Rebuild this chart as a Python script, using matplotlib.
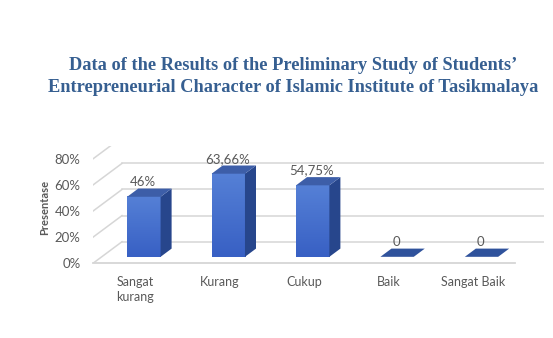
import matplotlib.pyplot as plt
import numpy as np
from matplotlib.patches import Polygon

categories = ['Sangat\nkurang', 'Kurang', 'Cukup', 'Baik', 'Sangat Baik']
values = [46, 63.66, 54.75, 0, 0]
yticks = [0, 20, 40, 60, 80]
title = ('Data of the Results of the Preliminary Study of Students\u2019\n'
         'Entrepreneurial Character of Islamic Institute of Tasikmalaya')

# pseudo-3d geometry, in data units (category / percent)
DX, DY = 0.344, 16.55       # full floor depth
F0, F1 = 0.30, 0.68         # bar front/back as fraction of depth
W = 0.395                   # bar width
grid_c = '#D6D6D6'
text_c = '#595959'

plt.rcParams['font.family'] = ['Lato', 'DejaVu Sans']

fig = plt.figure(figsize=(5.53, 3.38), dpi=100)
ax = fig.add_axes([93 / 553, (338 - 263.3) / 338, 451 / 553, 117.5 / 338])
ax.set_xlim(-0.5, 4.5 + DX)
ax.set_ylim(0, 90)

# walls: oblique side lines and back gridlines
for t in yticks:
    ax.plot([-0.5, -0.5 + DX], [t, t + DY], color=grid_c, lw=1.1, zorder=1)
    ax.plot([-0.5 + DX, 4.5 + DX], [t + DY, t + DY], color=grid_c, lw=1.1, zorder=1)
ax.plot([-0.5, 4.5], [0, 0], color=grid_c, lw=1.3, zorder=1, clip_on=False)

fx, fy = F0 * DX, F0 * DY
bx, by = (F1 - F0) * DX, (F1 - F0) * DY
grad = np.linspace(0, 1, 64).reshape(-1, 1)
cmap_front = plt.matplotlib.colors.LinearSegmentedColormap.from_list(
    'front', ['#3860C4', '#5580D6'])

for i, v in enumerate(values):
    x0 = i - W / 2 + fx
    x1 = x0 + W
    y0, y1 = fy, fy + v
    if v > 0:
        ax.imshow(grad, extent=(x0, x1, y0, y1), origin='lower', cmap=cmap_front,
                  aspect='auto', zorder=3, interpolation='bilinear')
        ax.add_patch(Polygon([(x1, y0), (x1 + bx, y0 + by), (x1 + bx, y1 + by), (x1, y1)],
                             closed=True, fc='#27468C', ec='none', zorder=3))
        ax.add_patch(Polygon([(x0, y1), (x1, y1), (x1 + bx, y1 + by), (x0 + bx, y1 + by)],
                             closed=True, fc='#3D5EA8', ec='none', zorder=3))
        label = f'{v:g}'.replace('.', ',') + '%'
    else:
        ax.add_patch(Polygon([(x0, y0), (x1, y0), (x1 + bx, y0 + by), (x0 + bx, y0 + by)],
                             closed=True, fc='#2F529C', ec='none', zorder=3))
        label = '0'
    ax.text(i + fx - 0.01, y1 + by + 0.6, label, ha='center', va='bottom',
            fontsize=9.5, color=text_c, zorder=4)

ax.set_xticks(range(len(categories)))
ax.set_xticklabels(categories, fontsize=9, color=text_c, linespacing=1.3, va='top')
ax.set_yticks(yticks)
ax.set_yticklabels([f'{t}%' for t in yticks], fontsize=9.5, color=text_c)
ax.tick_params(axis='x', length=0, pad=9)
ax.tick_params(axis='y', length=0, pad=9)
for s in ax.spines.values():
    s.set_visible(False)

fig.text(45 / 553, 1 - 207.5 / 338, 'Presentase', rotation=90, ha='center', va='center',
         fontsize=8, fontweight='bold', color=text_c)
fig.text(293 / 553, 1 - 76.5 / 338, title, ha='center', va='center', fontsize=13.2,
         fontweight='bold', color='#365F91', family='Liberation Serif', linespacing=1.4)

fig.savefig('out.png', dpi=100)
